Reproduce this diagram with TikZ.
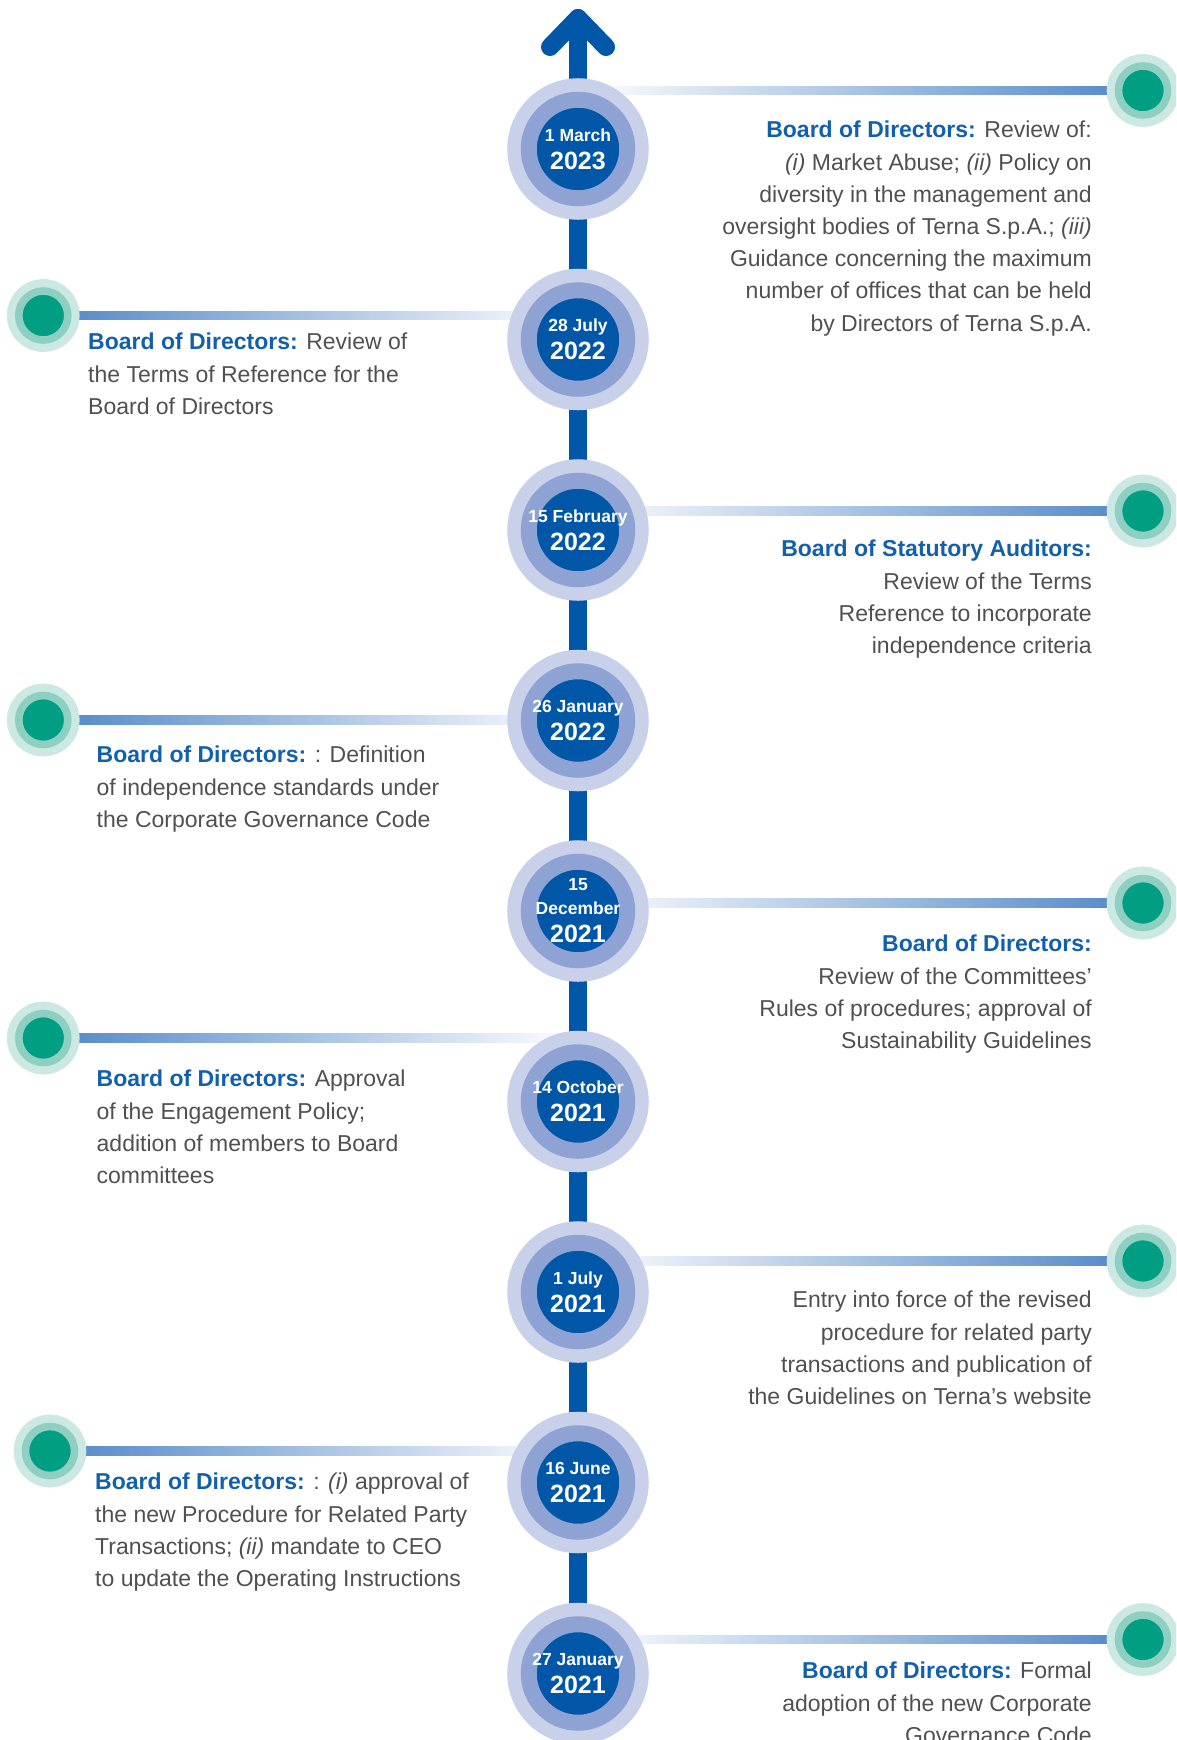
\documentclass[tikz,border=0pt]{standalone}
\usepackage{fontspec}
\setmainfont{Liberation Sans}
\usetikzlibrary{calc}
\definecolor{ternablue}{HTML}{0057A8}
\definecolor{headblue}{HTML}{1260AD}
\definecolor{ringmid}{HTML}{8EA3D4}
\definecolor{ringout}{HTML}{C8D0EA}
\definecolor{greenin}{HTML}{009E82}
\definecolor{greenmid}{HTML}{8ECFC1}
\definecolor{greenout}{HTML}{CBE9E2}
\definecolor{barblue}{HTML}{4F86C6}
\definecolor{bodygray}{HTML}{505050}
\newcommand{\bhead}[1]{\textcolor{headblue}{\bfseries #1}}
\newcommand{\yr}[1]{{\fontsize{25}{25}\selectfont #1}}

\begin{document}
\begin{tikzpicture}[x=1pt,y=-1pt,
    datering/.style={circle, minimum size=98.5pt, fill=ternablue, draw=ringmid, line width=16pt,
        preaction={draw=ringout, line width=43pt}},
    datetext/.style={align=center, text=white, font=\bfseries\fontsize{17.5}{24}\selectfont},
    greendot/.style={circle, minimum size=49pt, fill=greenin, draw=greenmid, line width=7.6pt,
        preaction={draw=greenout, line width=23.6pt}},
    ltext/.style={anchor=north west, align=left, text=bodygray, font=\fontsize{23}{32.2}\selectfont},
    rtext/.style={anchor=north east, align=right, text=bodygray, font=\fontsize{23}{32.2}\selectfont},
    spine/.style={draw=ternablue, line width=18pt, line cap=round, line join=round},
    lbar/.style={left color=barblue, middle color=barblue!40, right color=white},
    rbar/.style={left color=white, middle color=barblue!40, right color=barblue}]
        \tikzstyle{every node}+=[inner sep=0pt]
        \useasboundingbox (0,0) rectangle (1176,1740);
        \clip (0,0) rectangle (1176,1740);
        \coordinate (top) at (578,18);
        \coordinate (bottom) at (578,1760);
        \coordinate (c1) at (578,149);
        \coordinate (c2) at (578,339.5);
        \coordinate (c3) at (578,530);
        \coordinate (c4) at (578,720.5);
        \coordinate (c5) at (578,911);
        \coordinate (c6) at (578,1101.5);
        \coordinate (c7) at (578,1292);
        \coordinate (c8) at (578,1482.5);
        \coordinate (c9) at (578,1673.5);
        \node [greendot] (d1) at (1143,90.5) {};
        \node [greendot] (d2) at (43.3,315.5) {};
        \node [greendot] (d3) at (1143,511) {};
        \node [greendot] (d4) at (43.3,720) {};
        \node [greendot] (d5) at (1143,903) {};
        \node [greendot] (d6) at (43.3,1038) {};
        \node [greendot] (d7) at (1143,1261) {};
        \node [greendot] (d8) at (50,1451) {};
        \node [greendot] (d9) at (1143,1639.5) {};
        \shade [rbar] ($(c1 |- d1)+(0,-4.15)$) rectangle ($(d1)+(0,4.15)$);
        \shade [lbar] ($(d2)+(0,-4.15)$) rectangle ($(c2 |- d2)+(0,4.15)$);
        \shade [rbar] ($(c3 |- d3)+(0,-4.15)$) rectangle ($(d3)+(0,4.15)$);
        \shade [lbar] ($(d4)+(0,-4.15)$) rectangle ($(c4 |- d4)+(0,4.15)$);
        \shade [rbar] ($(c5 |- d5)+(0,-4.15)$) rectangle ($(d5)+(0,4.15)$);
        \shade [lbar] ($(d6)+(0,-4.15)$) rectangle ($(c6 |- d6)+(0,4.15)$);
        \shade [rbar] ($(c7 |- d7)+(0,-4.15)$) rectangle ($(d7)+(0,4.15)$);
        \shade [lbar] ($(d8)+(0,-4.15)$) rectangle ($(c8 |- d8)+(0,4.15)$);
        \shade [rbar] ($(c9 |- d9)+(0,-4.15)$) rectangle ($(d9)+(0,4.15)$);
        \draw [spine] (bottom) -- (top);
        \draw [spine] ($(top)+(-28,29)$) -- (top) -- ($(top)+(28,29)$);
        \node [greendot] (g1) at (d1) {};
        \node [greendot] (g2) at (d2) {};
        \node [greendot] (g3) at (d3) {};
        \node [greendot] (g4) at (d4) {};
        \node [greendot] (g5) at (d5) {};
        \node [greendot] (g6) at (d6) {};
        \node [greendot] (g7) at (d7) {};
        \node [greendot] (g8) at (d8) {};
        \node [greendot] (g9) at (d9) {};
        \node [datering] (r1) at (c1) {};
        \node [datetext] (t1) at (c1) {1 March\\[4pt]\yr{2023}};
        \node [datering] (r2) at (c2) {};
        \node [datetext] (t2) at (c2) {28 July\\[4pt]\yr{2022}};
        \node [datering] (r3) at (c3) {};
        \node [datetext] (t3) at (c3) {15 February\\[4pt]\yr{2022}};
        \node [datering] (r4) at (c4) {};
        \node [datetext] (t4) at (c4) {26 January\\[4pt]\yr{2022}};
        \node [datering] (r5) at (c5) {};
        \node [datetext] (t5) at (c5) {15\\December\\[4pt]\yr{2021}};
        \node [datering] (r6) at (c6) {};
        \node [datetext] (t6) at (c6) {14 October\\[4pt]\yr{2021}};
        \node [datering] (r7) at (c7) {};
        \node [datetext] (t7) at (c7) {1 July\\[4pt]\yr{2021}};
        \node [datering] (r8) at (c8) {};
        \node [datetext] (t8) at (c8) {16 June\\[4pt]\yr{2021}};
        \node [datering] (r9) at (c9) {};
        \node [datetext] (t9) at (c9) {27 January\\[4pt]\yr{2021}};
        \node [rtext] (n1) at (1092,121) {\bhead{Board of Directors:} Review of:\\
            \textit{(i)} Market Abuse; \textit{(ii)} Policy on\\
            diversity in the management and\\
            oversight bodies of Terna S.p.A.; \textit{(iii)}\\
            Guidance concerning the maximum\\
            number of offices that can be held\\
            by Directors of Terna S.p.A.};
        \node [ltext] (n2) at (88,333) {\bhead{Board of Directors:} Review of\\
            the Terms of Reference for the\\
            Board of Directors};
        \node [rtext] (n3) at (1092,540) {\bhead{Board of Statutory Auditors:}\\
            Review of the Terms\\
            Reference to incorporate\\
            independence criteria};
        \node [ltext] (n4) at (96.5,746) {\bhead{Board of Directors:} : Definition\\
            of independence standards under\\
            the Corporate Governance Code};
        \node [rtext] (n5) at (1092,935) {\bhead{Board of Directors:}\\
            Review of the Committees’\\
            Rules of procedures; approval of\\
            Sustainability Guidelines};
        \node [ltext] (n6) at (96.5,1070) {\bhead{Board of Directors:} Approval\\
            of the Engagement Policy;\\
            addition of members to Board\\
            committees};
        \node [rtext] (n7) at (1092,1291) {Entry into force of the revised\\
            procedure for related party\\
            transactions and publication of\\
            the Guidelines on Terna’s website};
        \node [ltext] (n8) at (95,1473) {\bhead{Board of Directors:} : \textit{(i)} approval of\\
            the new Procedure for Related Party\\
            Transactions; \textit{(ii)} mandate to CEO\\
            to update the Operating Instructions};
        \node [rtext] (n9) at (1092,1662) {\bhead{Board of Directors:} Formal\\
            adoption of the new Corporate\\
            Governance Code};
\end{tikzpicture}
\end{document}
